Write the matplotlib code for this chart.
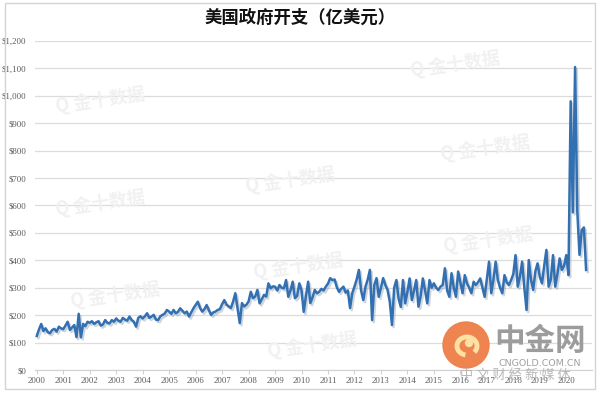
import numpy as np
import matplotlib
matplotlib.use("Agg")
import matplotlib.pyplot as plt
import matplotlib.patheffects as pe
from matplotlib.patches import Circle, Arc, Rectangle

# monthly US government outlays
y2000 = [124, 148, 168, 142, 152, 138, 134, 146, 150, 140, 158, 152]
y2001 = [149, 162, 176, 146, 155, 164, 120, 205, 119, 168, 160, 176]
y2002 = [172, 178, 168, 174, 178, 162, 166, 182, 172, 170, 182, 176]
y2003 = [188, 180, 176, 190, 184, 180, 195, 182, 176, 158, 190, 196]
y2004 = [188, 196, 207, 190, 195, 201, 184, 182, 196, 201, 206, 219]
y2005 = [213, 205, 219, 207, 212, 225, 216, 207, 213, 195, 210, 225]
y2006 = [237, 249, 226, 213, 222, 237, 218, 201, 210, 213, 219, 222]
y2007 = [240, 255, 238, 232, 226, 250, 280, 225, 171, 244, 232, 238]
y2008 = [250, 285, 262, 268, 292, 243, 258, 274, 268, 316, 298, 305]
y2009 = [304, 290, 310, 300, 298, 328, 267, 290, 322, 262, 270, 316]
y2010 = [290, 212, 270, 322, 244, 265, 292, 280, 285, 296, 290, 304]
y2011 = [315, 335, 328, 330, 302, 285, 296, 304, 282, 290, 226, 280]
y2012 = [304, 330, 365, 290, 255, 304, 330, 365, 182, 310, 335, 267]
y2013 = [300, 335, 310, 292, 250, 164, 300, 328, 260, 230, 328, 243]
y2014 = [285, 334, 255, 290, 328, 231, 270, 334, 290, 243, 328, 300]
y2015 = [316, 300, 292, 304, 310, 371, 290, 267, 353, 300, 267, 359]
y2016 = [320, 280, 346, 316, 300, 280, 322, 310, 320, 334, 300, 267]
y2017 = [330, 395, 280, 330, 395, 328, 300, 280, 346, 320, 310, 328]
y2018 = [350, 419, 304, 340, 395, 300, 219, 401, 330, 292, 360, 389]
y2019 = [340, 316, 380, 438, 304, 330, 419, 304, 350, 407, 365, 380]
y2020 = [419, 346, 980, 575, 1105, 580, 420, 510, 520, 365]

years = list(range(2000, 2021))
ytick_vals = list(range(0, 1300, 100))
ytick_labels = ["$0", "$100", "$200", "$300", "$400", "$500", "$600", "$700",
                "$800", "$900", "$1,000", "$1,100", "$1,200"]
title = "美国政府开支（亿美元）"
watermark = "金十数据"

spending = (y2000 + y2001 + y2002 + y2003 + y2004 + y2005 + y2006 + y2007 +
            y2008 + y2009 + y2010 + y2011 + y2012 + y2013 + y2014 + y2015 +
            y2016 + y2017 + y2018 + y2019 + y2020)
t = 2000 + np.arange(len(spending)) / 12.0

cjk = ["Noto Sans CJK SC", "DejaVu Sans"]

fig = plt.figure(figsize=(6, 3.93), dpi=100)
fig.patch.set_facecolor("white")
ax = fig.add_axes([0.058, 0.0585, 0.929, 0.8372])

# faint watermarks behind the chart
wm_spots = [(100, 100), (100, 203), (115, 295), (290, 180), (298, 266), (312, 345),
            (485, 148), (488, 240), (455, 64)]
for px, py in wm_spots:
    fig.text(px / 600, 1 - py / 393, "Q " + watermark, family=cjk, fontsize=13,
             fontweight="bold", color="#f1f1f1", ha="center", va="center",
             rotation=8, zorder=0)

ax.set_facecolor("none")
ax.plot(t, spending, color="#3270b2", lw=1.8, solid_joinstyle="round", zorder=3,
        path_effects=[pe.SimpleLineShadow(offset=(1.2, -1.5), shadow_color="#8797ab", alpha=0.4),
                      pe.Normal()])

ax.set_ylim(0, 1200)
ax.set_xlim(1999.925, 2020.98)
ax.set_yticks(ytick_vals)
ax.set_yticklabels(ytick_labels)
ax.set_xticks(years)
ax.set_xticklabels([str(y) for y in years])
ax.grid(axis="y", color="#dcdcdc", lw=0.9)
ax.set_axisbelow(True)
for s in ["top", "right", "left"]:
    ax.spines[s].set_visible(False)
ax.spines["bottom"].set_color("#d0d0d0")
ax.tick_params(axis="y", length=0, pad=6, labelsize=6.3, labelcolor="#595959")
ax.tick_params(axis="x", length=3, color="#d0d0d0", pad=2, labelsize=6.3, labelcolor="#595959")
for lab in ax.get_xticklabels() + ax.get_yticklabels():
    lab.set_family("Liberation Serif")

fig.text(0.5, 1 - 18 / 393, title, family=cjk, fontsize=12.5, fontweight="bold",
         ha="center", va="center", color="#111111")

# cngold logo in the bottom right corner
logo_ax = fig.add_axes([0, 0, 1, 1], facecolor="none")
logo_ax.set_xlim(0, 600)
logo_ax.set_ylim(393, 0)
logo_ax.axis("off")
logo_ax.add_patch(Circle((466, 345), 23, color="#ee7f48", alpha=0.95, zorder=5))
logo_ax.add_patch(Arc((467, 346), 20, 18, theta1=100, theta2=400,
                      color="#fde0a2", lw=3.5, zorder=6))
logo_ax.add_patch(Circle((469, 343), 3.5, color="#fde0a2", zorder=6))
logo_ax.text(540, 341, "中金网", family=cjk, fontsize=22, fontweight="bold",
             color="#9c9c9c", ha="center", va="center", zorder=6)
logo_ax.text(540, 363, "CNGOLD.COM.CN", family="DejaVu Sans", fontsize=6.8,
             color="#a0a0a0", ha="center", va="center", zorder=6)
logo_ax.text(515, 375, "中 文 财 经 新 媒 体", family=cjk, fontsize=9.5,
             color="#b8b8b8", ha="center", va="center", zorder=6)
logo_ax.add_patch(Rectangle((5, 3), 590, 386, fill=False, edgecolor="#d4d4d4", lw=1))

fig.savefig("out.png", dpi=100, facecolor="white")
